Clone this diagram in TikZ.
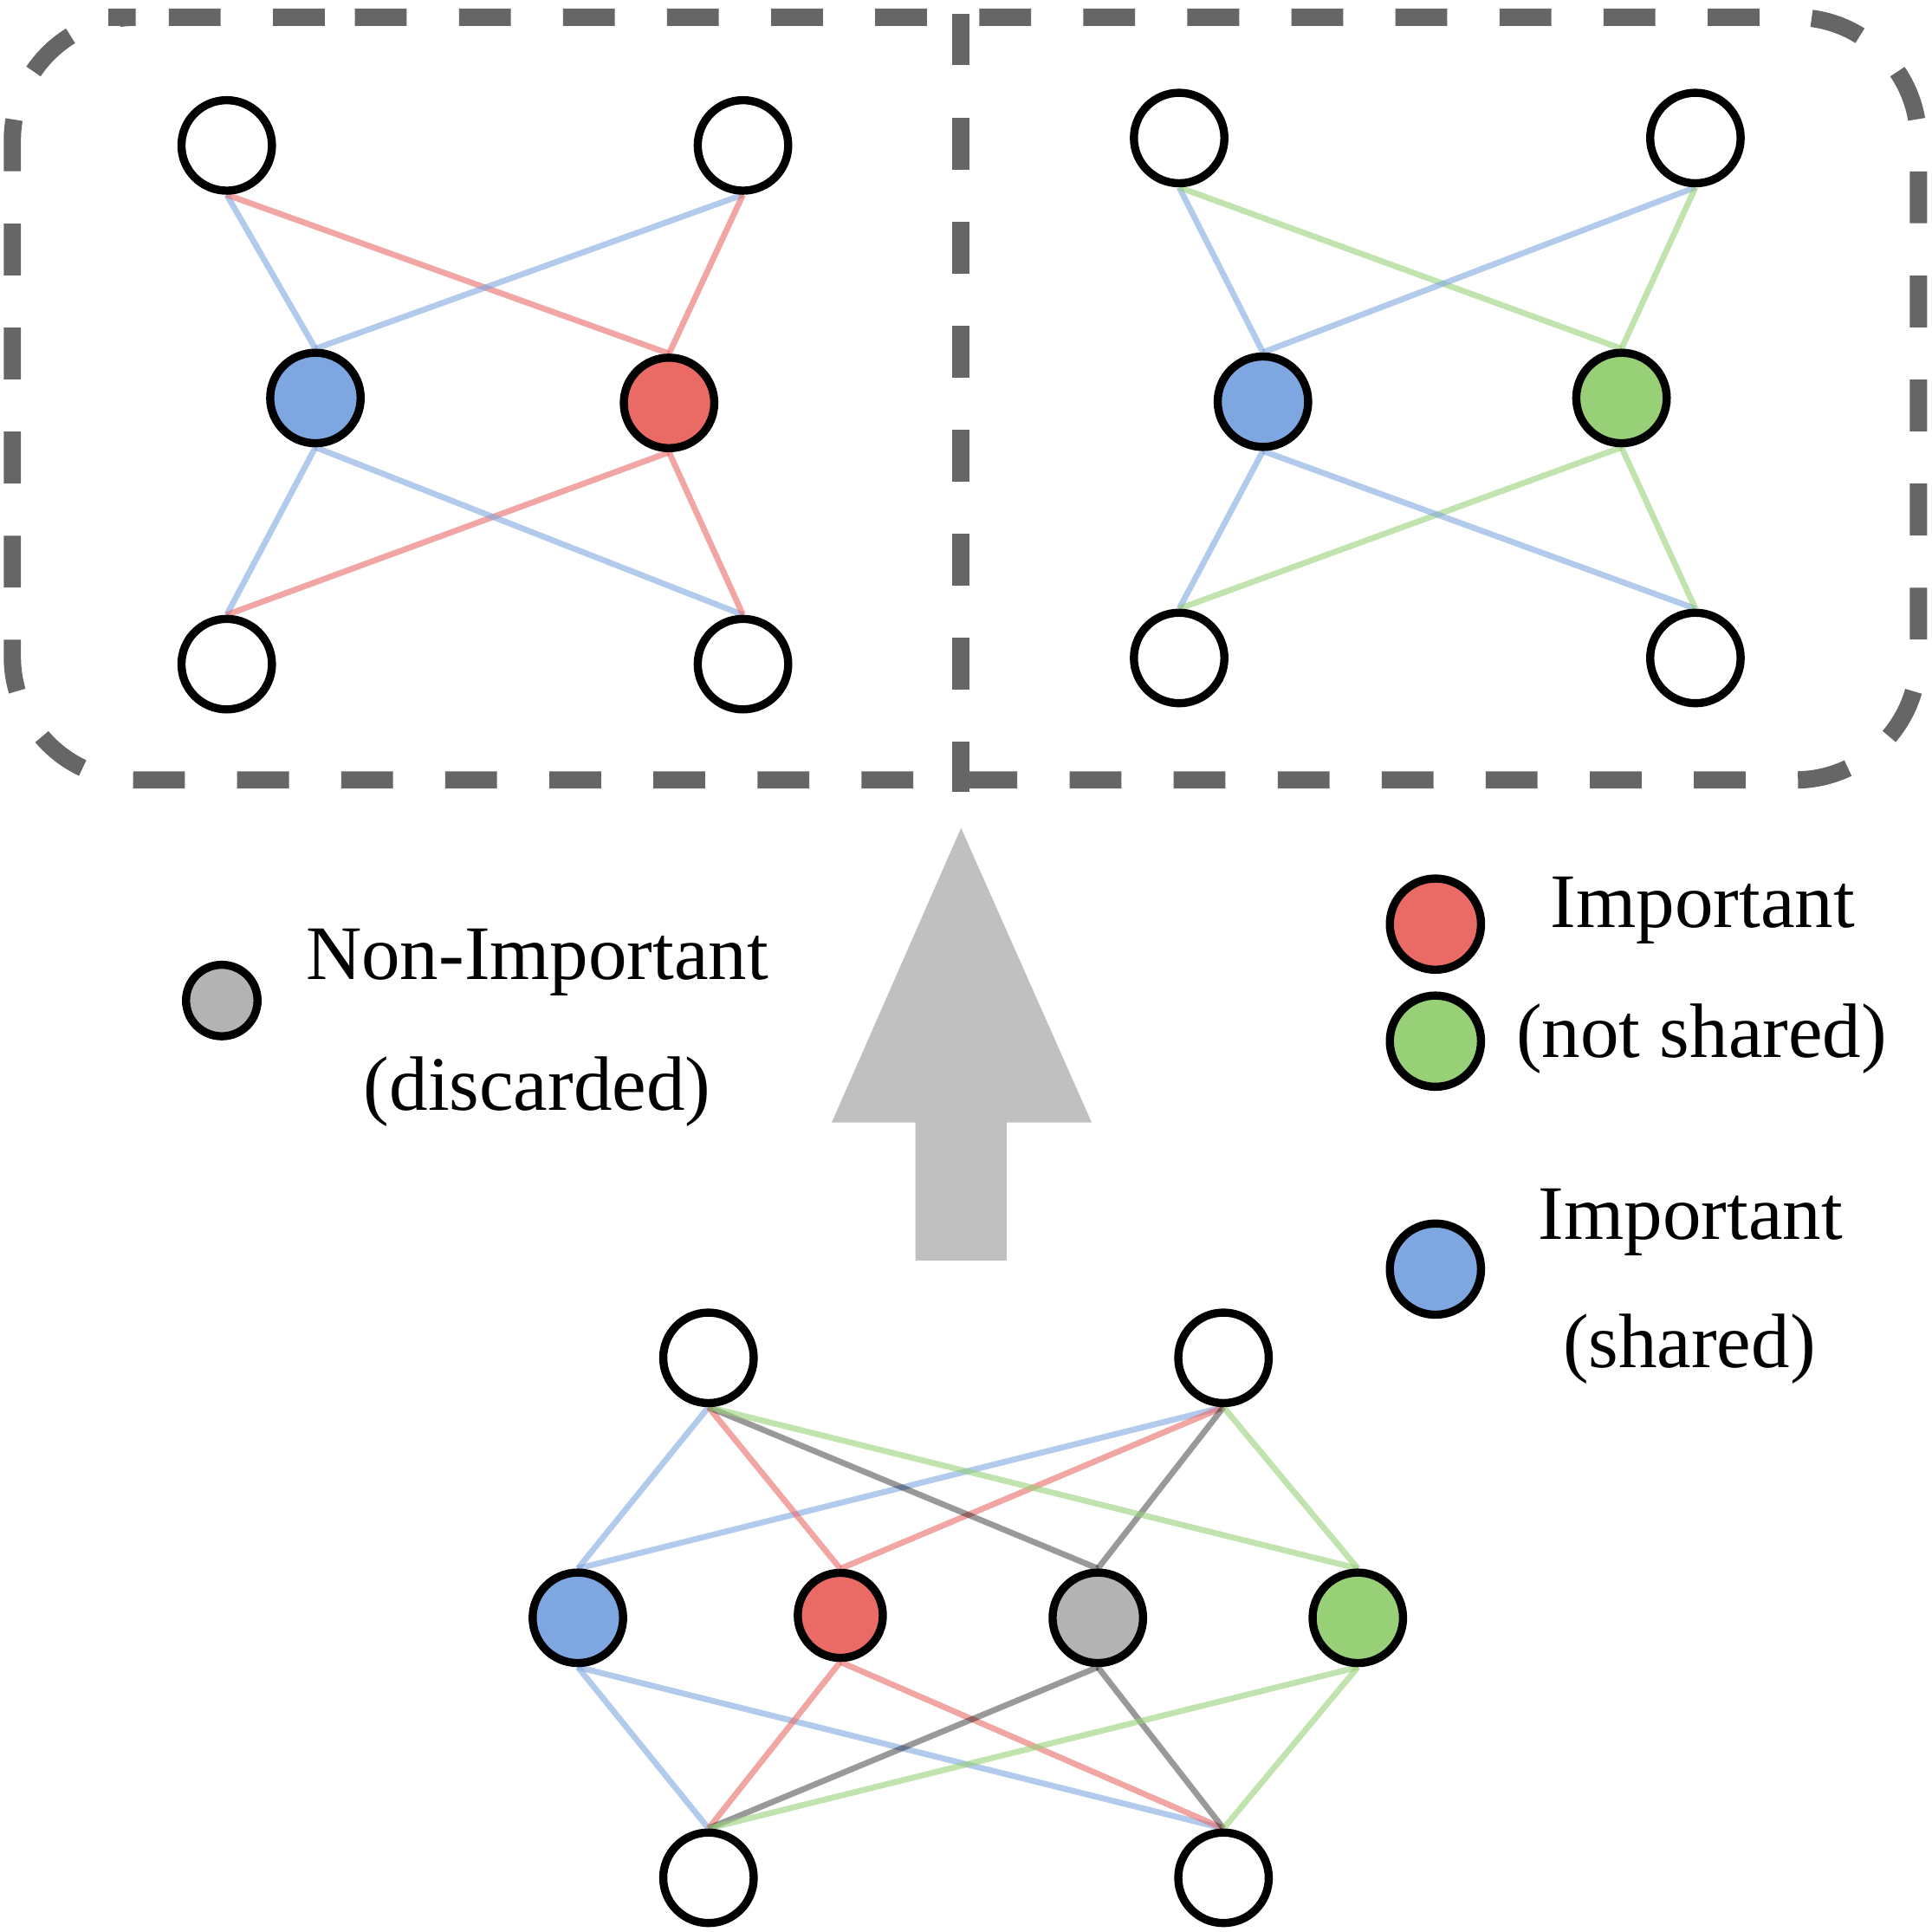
\documentclass[tikz,border=0pt]{standalone}
\usepackage{fontspec}
\setmainfont{Liberation Serif}
\usetikzlibrary{backgrounds}
\definecolor{blu}{HTML}{7EA6E0}
\definecolor{rosso}{HTML}{EA6B66}
\definecolor{verde}{HTML}{97D077}
\definecolor{grigio}{HTML}{B3B3B3}
\definecolor{bordo}{HTML}{666666}
\definecolor{chiaro}{HTML}{C0C0C0}
\tikzset{
main node/.style={circle,draw,line width=0.066cm,inner sep=0pt,minimum size=0.734cm,fill=white},
legend node/.style={main node,minimum size=0.74cm},
arco/.style={line width=0.048cm,draw opacity=0.6},
ablu/.style={arco,draw=blu},
arosso/.style={arco,draw=rosso},
averde/.style={arco,draw=verde},
agrigio/.style={line width=0.048cm,draw=black,draw opacity=0.4},
cornice/.style={draw=bordo,line width=0.14cm,dash pattern=on 0.42cm off 0.424cm},
testo/.style={anchor=base,inner sep=0pt}}

\begin{document}
\begin{tikzpicture}[x=0.01cm,y=-0.01cm,font=\fontsize{17.8}{22}\selectfont]
\useasboundingbox (0,0) rectangle (1568,1568);

% frame
\draw[cornice,rounded corners=1cm] (188,14) -- (1557,14) -- (1557,633) -- (10,633) -- (10,14) -- cycle;
\draw[cornice] (780,11) -- (780,643);

% left panel
\node[main node] (l1) at (184,118) {};
\node[main node] (l2) at (603,118) {};
\node[main node,fill=blu] (l3) at (256,323) {};
\node[main node,fill=rosso] (l4) at (543,327) {};
\node[main node] (l5) at (184,539) {};
\node[main node] (l6) at (603,539) {};

% right panel
\node[main node] (r1) at (957,112) {};
\node[main node] (r2) at (1376,112) {};
\node[main node,fill=blu] (r3) at (1025,326) {};
\node[main node,fill=verde] (r4) at (1316,323) {};
\node[main node] (r5) at (957,534) {};
\node[main node] (r6) at (1376,534) {};

% full network
\node[main node] (b1) at (575,1102) {};
\node[main node] (b2) at (993,1102) {};
\node[main node,fill=blu] (b3) at (469,1313) {};
\node[main node,fill=rosso,minimum size=0.69cm] (b4) at (682,1311) {};
\node[main node,fill=grigio] (b5) at (891,1313) {};
\node[main node,fill=verde] (b6) at (1102,1313) {};
\node[main node] (b7) at (575,1524) {};
\node[main node] (b8) at (993,1524) {};

\begin{pgfonlayer}{background}
\foreach \t in {l1,l2} {
  \draw[ablu] (\t.south) -- (l3.north);
  \draw[arosso] (\t.south) -- (l4.north);}
\foreach \t in {l5,l6} {
  \draw[ablu] (l3.south) -- (\t.north);
  \draw[arosso] (l4.south) -- (\t.north);}
\foreach \t in {r1,r2} {
  \draw[ablu] (\t.south) -- (r3.north);
  \draw[averde] (\t.south) -- (r4.north);}
\foreach \t in {r5,r6} {
  \draw[ablu] (r3.south) -- (\t.north);
  \draw[averde] (r4.south) -- (\t.north);}
\foreach \m/\s in {b3/ablu,b4/arosso,b5/agrigio,b6/averde} {
  \foreach \t in {b1,b2} \draw[\s] (\t.south) -- (\m.north);
  \foreach \t in {b7,b8} \draw[\s] (\m.south) -- (\t.north);}
\end{pgfonlayer}

% arrow
\fill[chiaro] (780,672) -- (886,911) -- (817,911) -- (817,1023) -- (743,1023) -- (743,911) -- (675,911) -- cycle;

% legend
\node[main node,fill=grigio,minimum size=0.58cm] (g1) at (180,812) {};
\node[legend node,fill=rosso] (g2) at (1165,750) {};
\node[legend node,fill=verde] (g3) at (1165,845) {};
\node[legend node,fill=blu] (g4) at (1165,1030) {};
\node[testo] (t1) at (436,795) {Non-Important};
\node[testo] (t2) at (436,901) {(discarded)};
\node[testo] (t3) at (1382,753) {Important};
\node[testo] (t4) at (1381,858) {(not shared)};
\node[testo] (t5) at (1372,1006) {Important};
\node[testo] (t6) at (1371,1110) {(shared)};
\end{tikzpicture}
\end{document}
